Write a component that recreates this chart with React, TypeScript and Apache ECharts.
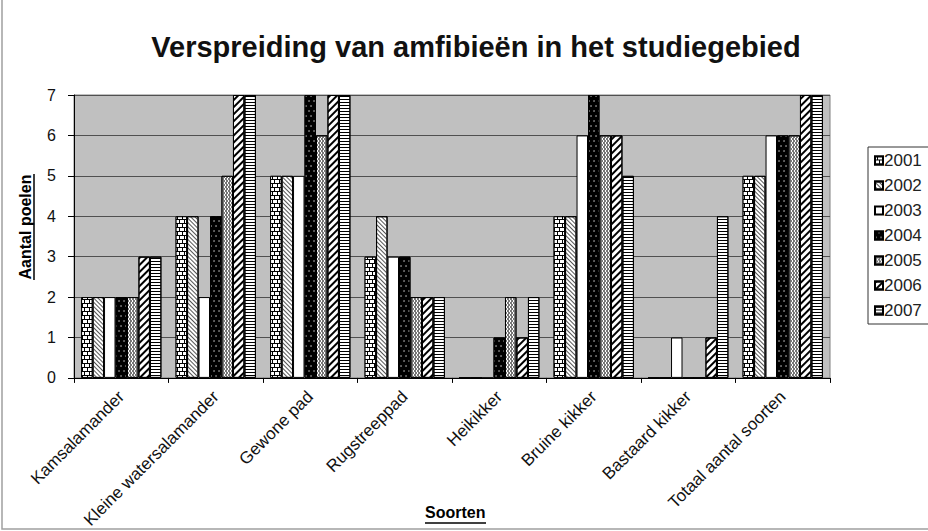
import React, { useEffect, useRef } from "react";
import * as echarts from "echarts";

const categories = [
  "Kamsalamander",
  "Kleine watersalamander",
  "Gewone pad",
  "Rugstreeppad",
  "Heikikker",
  "Bruine kikker",
  "Bastaard kikker",
  "Totaal aantal soorten",
];
const years = ["2001", "2002", "2003", "2004", "2005", "2006", "2007"];
const v2001 = [2, 4, 5, 3, 0, 4, 0, 5];
const v2002 = [2, 4, 5, 4, 0, 4, 0, 5];
const v2003 = [2, 2, 5, 3, 0, 6, 1, 6];
const v2004 = [2, 4, 7, 3, 1, 7, 0, 6];
const v2005 = [2, 5, 6, 2, 2, 6, 0, 6];
const v2006 = [3, 7, 7, 2, 1, 6, 1, 7];
const v2007 = [3, 7, 7, 2, 2, 5, 4, 7];

const seriesValues = [v2001, v2002, v2003, v2004, v2005, v2006, v2007];

const decals: any[] = [
  {
    symbol: "rect",
    symbolSize: 1,
    symbolKeepAspect: false,
    color: "#ffffff",
    dashArrayX: [[4, 1], [2, 1, 2, 0]],
    dashArrayY: [3, 1],
  },
  {
    symbol: "rect",
    symbolSize: 1,
    color: "#555555",
    dashArrayX: [1, 0],
    dashArrayY: [1, 1.5],
    rotation: Math.PI / 4,
  },
  null,
  {
    symbol: "circle",
    symbolSize: 0.6,
    color: "#ffffff",
    dashArrayX: [[2, 3], [0, 3, 2, 0]],
    dashArrayY: [2, 3],
  },
  {
    symbol: "rect",
    symbolSize: 1,
    color: "#777777",
    dashArrayX: [[2, 1], [0, 1, 2, 0]],
    dashArrayY: [2, 0],
  },
  {
    symbol: "rect",
    symbolSize: 1,
    color: "#000000",
    dashArrayX: [1, 0],
    dashArrayY: [1.5, 3],
    rotation: -Math.PI / 4,
  },
  {
    symbol: "rect",
    symbolSize: 1,
    color: "#000000",
    dashArrayX: [1, 0],
    dashArrayY: [1, 2],
  },
];
const baseColors = ["#000000", "#ffffff", "#ffffff", "#000000", "#ffffff", "#ffffff", "#ffffff"];

export default function App() {
  const ref = useRef<HTMLDivElement>(null);
  useEffect(() => {
    if (!ref.current) return;
    const chart = echarts.init(ref.current, null, { renderer: "svg" });
    const font = "'Liberation Sans', Arial, sans-serif";
    const option: any = {
      animation: false,
      backgroundColor: "#ffffff",
      textStyle: { fontFamily: font },
      title: {
        text: "Verspreiding van amfibieën in het studiegebied",
        left: 471,
        textAlign: "center",
        top: 27,
        textStyle: { fontFamily: font, fontSize: 29, fontWeight: "bold", color: "#111" },
      },
      legend: {
        orient: "vertical",
        left: 868,
        top: 147,
        data: years,
        icon: "rect",
        itemWidth: 8,
        itemHeight: 8,
        itemGap: 8,
        padding: [5, 10, 5, 6],
        borderColor: "#333",
        borderWidth: 1,
        textStyle: { fontFamily: font, fontSize: 17, color: "#222", padding: [0, 0, 0, -4] },
      },
      grid: {
        left: 74,
        right: 98,
        top: 95,
        bottom: 152,
        show: true,
        backgroundColor: "#c0c0c0",
        borderColor: "#808080",
        borderWidth: 1,
      },
      xAxis: {
        type: "category",
        data: categories,
        axisLine: { lineStyle: { color: "#000", width: 1 } },
        axisTick: { show: true, length: 5, lineStyle: { color: "#000" } },
        axisLabel: {
          rotate: 45,
          interval: 0,
          fontFamily: font,
          fontSize: 17,
          color: "#111",
          margin: 16,
        },
      },
      yAxis: {
        type: "value",
        min: 0,
        max: 7,
        interval: 1,
        axisLine: { show: true, lineStyle: { color: "#000", width: 1 } },
        axisTick: { show: true, length: 6, lineStyle: { color: "#000" } },
        axisLabel: { fontFamily: font, fontSize: 16, color: "#111", margin: 18 },
        splitLine: { lineStyle: { color: "#505050", width: 1 } },
      },
      graphic: [
        {
          type: "text",
          left: 425,
          top: 504,
          style: { text: "Soorten", font: `bold 16px ${font}`, fill: "#000" },
        },
        {
          type: "line",
          shape: { x1: 425, y1: 523, x2: 486, y2: 523 },
          style: { stroke: "#000", lineWidth: 1.5 },
        },
        {
          type: "text",
          x: 25,
          y: 227,
          rotation: Math.PI / 2,
          style: {
            text: "Aantal poelen",
            font: `bold 16px ${font}`,
            fill: "#000",
            align: "center",
            verticalAlign: "middle",
          },
        },
        {
          type: "line",
          shape: { x1: 34, y1: 174, x2: 34, y2: 280 },
          style: { stroke: "#000", lineWidth: 1.5 },
        },
        {
          type: "rect",
          shape: { x: 2, y: -2, width: 940, height: 531 },
          style: { fill: "none", stroke: "#a0a0a0", lineWidth: 1.5 },
          silent: true,
        },
      ],
      series: years.map((y, i) => ({
        name: y,
        type: "bar",
        data: seriesValues[i],
        barGap: "0%",
        barCategoryGap: "15%",
        itemStyle: {
          color: baseColors[i],
          borderColor: "#000",
          borderWidth: 1,
          decal: decals[i] || undefined,
        },
      })),
    };
    chart.setOption(option);
    return () => chart.dispose();
  }, []);
  return (
    <div
      ref={ref}
      style={{ position: "absolute", left: 0, top: 0, width: 928, height: 531 }}
    />
  );
}
